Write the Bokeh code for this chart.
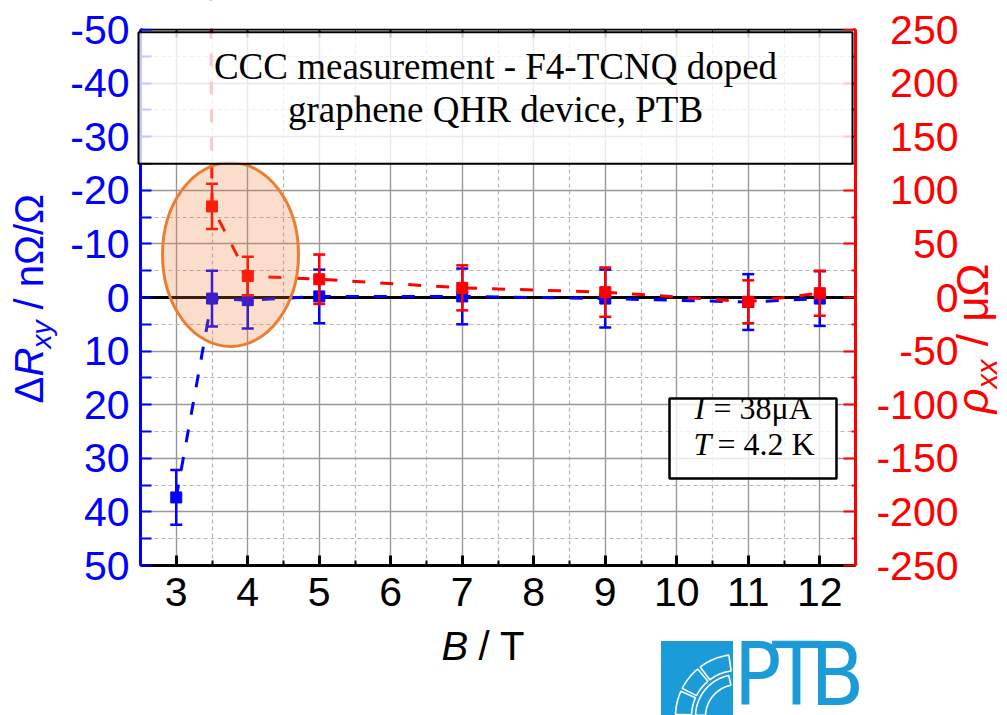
import math
from bokeh.plotting import figure
from bokeh.models import (Range1d, LinearAxis, FixedTicker, Label, LabelSet, Grid,
                          PolyAnnotation, BoxAnnotation, ColumnDataSource, CustomJSTickFormatter)
from bokeh.core.properties import value
from bokeh.embed import file_html
from bokeh.resources import INLINE

# ---------------- data ----------------
field_B = [3, 3.5, 4, 5, 7, 9, 11, 12]                       # B / T
delta_Rxy = [37.3, 0.2, 0.5, -0.2, -0.2, 0.2, 0.85, 0.2]       # nOhm/Ohm
delta_Rxy_err = [5.1, 5.2, 5.3, 5.0, 5.2, 5.4, 5.2, 5.1]
rho_B = [3, 3.5, 4, 5, 7, 9, 11, 12]
rho_xx = [6000, 85, 20, 17, 9, 5, -4, 4]                        # microOhm (first point far off-scale)
rho_xx_err = [20, 21, 18, 23, 21, 23, 20, 21]

x_ticks = [3, 4, 5, 6, 7, 8, 9, 10, 11, 12]
x_minor = [2.5, 3.5, 4.5, 5.5, 6.5, 7.5, 8.5, 9.5, 10.5, 11.5, 12.5]
left_ticks = [-50, -40, -30, -20, -10, 0, 10, 20, 30, 40, 50]
left_minor = [-45, -35, -25, -15, -5, 5, 15, 25, 35, 45]
right_ticks = [-250, -200, -150, -100, -50, 0, 50, 100, 150, 200, 250]
right_minor = [-225, -175, -125, -75, -25, 25, 75, 125, 175, 225]
right_tick_labels = [str(t) for t in right_ticks]

title_lines = ["CCC measurement - F4-TCNQ doped", "graphene QHR device, PTB"]

# ---------------- layout ----------------
W, H = 1007, 715
FL, FR, FT, FB = 140, 855, 29, 565          # plot area in canvas pixels
X0, X1 = 2.5, 12.5
Y_BOTTOM, Y_TOP = 50, -50
R_BOTTOM, R_TOP = -250, 250

BLUE = "#0000ff"
RED = "#ff0000"
SANS = "Liberation Sans"
SERIF = "Liberation Serif"
LOGO = "#1b9bd7"
NB = "\u00a0"
K_BASE = 0.36   # baseline correction (fraction of font size)


def xd(px):
    return X0 + (px - FL) * (X1 - X0) / (FR - FL)


def yd(py):
    return Y_TOP + (py - FT) * (Y_BOTTOM - Y_TOP) / (FB - FT)


def rd(py):
    return R_TOP + (py - FT) * (R_BOTTOM - R_TOP) / (FB - FT)


# the frame covers the whole canvas; axes sit at fixed locations
p = figure(width=W, height=H, x_range=Range1d(xd(0), xd(W)), y_range=Range1d(yd(H), yd(0)),
           output_backend="svg", toolbar_location=None, title=None,
           x_axis_location=None, y_axis_location=None,
           min_border_left=0, min_border_right=0, min_border_top=0, min_border_bottom=0)
p.extra_y_ranges = {"rho": Range1d(rd(H), rd(0))}
p.outline_line_color = None
p.background_fill_color = "white"
p.border_fill_color = "white"
for g in list(p.xgrid) + list(p.ygrid):
    g.visible = False

# ---------------- grids ----------------
HAS_CB = "cross_bounds" in Grid.properties()


def add_grid(dim, ticks, minor, bounds, cross, color, width, minor_color=None, dash=None):
    if HAS_CB:
        g = Grid(dimension=dim, ticker=FixedTicker(ticks=ticks, minor_ticks=minor),
                 bounds=bounds, cross_bounds=cross, grid_line_color=color, grid_line_width=width)
        if minor_color:
            g.minor_grid_line_color = minor_color
            g.minor_grid_line_width = 1.2
            g.minor_grid_line_dash = dash
        p.add_layout(g)
    else:
        lo, hi = min(bounds), max(bounds)
        for tks, c, w, d in ((minor, minor_color, 1.2, dash), (ticks, color, width, "solid")):
            if not c:
                continue
            t2 = [t for t in tks if lo < t < hi]
            if dim == 0:
                xs = [[t, t] for t in t2]
                ys = [[cross[0], cross[1]] for t in t2]
            else:
                xs = [[cross[0], cross[1]] for t in t2]
                ys = [[t, t] for t in t2]
            p.multi_line(xs, ys, line_color=c, line_width=w, line_dash=d, level="underlay")


add_grid(0, x_ticks, x_minor, (X0, X1), (Y_TOP, Y_BOTTOM), "#999999", 1.4, "#b5b5b5", "4 3")
add_grid(1, left_ticks, left_minor, (Y_TOP, Y_BOTTOM), (X0, X1), "#999999", 1.4, "#b5b5b5", "4 3")
add_grid(1, [0], [], (Y_TOP, Y_BOTTOM), (X0, X1), "black", 3)

# ---------------- axes ----------------
hyphen = CustomJSTickFormatter(code="return tick.toFixed(0)")
blank = CustomJSTickFormatter(code="return ''")

xa = LinearAxis(fixed_location=Y_BOTTOM, bounds=(X0, X1),
                ticker=FixedTicker(ticks=x_ticks, minor_ticks=x_minor), formatter=hyphen)
xa.axis_line_color = "black"
xa.axis_line_width = 3
xa.major_tick_line_color = "black"
xa.major_tick_line_width = 3
xa.minor_tick_line_color = "black"
xa.minor_tick_line_width = 2
xa.major_tick_in = 10
xa.major_tick_out = 0
xa.minor_tick_in = 5
xa.minor_tick_out = 0
xa.major_label_text_font = SANS
xa.major_label_text_font_size = "41px"
xa.major_label_text_color = "black"
xa.major_label_standoff = 12
p.add_layout(xa, "below")

ya = LinearAxis(fixed_location=X0, bounds=(Y_TOP, Y_BOTTOM),
                ticker=FixedTicker(ticks=left_ticks, minor_ticks=left_minor), formatter=hyphen)
ya.axis_line_color = BLUE
ya.axis_line_width = 3
ya.major_tick_line_color = BLUE
ya.major_tick_line_width = 2
ya.minor_tick_line_color = BLUE
ya.minor_tick_line_width = 2
ya.major_tick_in = 11
ya.major_tick_out = 0
ya.minor_tick_in = 11
ya.minor_tick_out = 0
ya.major_label_text_font = SANS
ya.major_label_text_font_size = "41px"
ya.major_label_text_color = BLUE
ya.major_label_standoff = 11
p.add_layout(ya, "left")

ra = LinearAxis(y_range_name="rho", fixed_location=X1, bounds=(R_BOTTOM, R_TOP),
                ticker=FixedTicker(ticks=right_ticks, minor_ticks=right_minor), formatter=blank)
ra.axis_line_color = RED
ra.axis_line_width = 3
ra.major_tick_line_color = RED
ra.major_tick_line_width = 2
ra.minor_tick_line_color = RED
ra.minor_tick_line_width = 2
ra.major_tick_in = 12
ra.major_tick_out = 0
ra.minor_tick_in = 4
ra.minor_tick_out = 0
ra.major_label_text_font_size = "1px"
p.add_layout(ra, "right")

ta = LinearAxis(fixed_location=Y_TOP, bounds=(X0, X1),
                ticker=FixedTicker(ticks=x_ticks, minor_ticks=x_minor), formatter=blank)
ta.axis_line_color = "black"
ta.axis_line_width = 2
ta.major_tick_line_color = "black"
ta.major_tick_line_width = 2
ta.minor_tick_line_color = "black"
ta.major_tick_in = 8
ta.major_tick_out = 0
ta.minor_tick_in = 4
ta.minor_tick_out = 0
ta.major_label_text_font_size = "1px"
p.add_layout(ta, "above")

# ---------------- data glyphs ----------------
src_b = ColumnDataSource(dict(
    x=field_B, y=delta_Rxy,
    lo=[v - e for v, e in zip(delta_Rxy, delta_Rxy_err)],
    hi=[v + e for v, e in zip(delta_Rxy, delta_Rxy_err)]))
p.line("x", "y", source=src_b, line_color=BLUE, line_width=3, line_dash="13 15")
p.segment(x0="x", y0="lo", x1="x", y1="hi", source=src_b, line_color=BLUE, line_width=2.5)
p.scatter("x", "lo", source=src_b, marker="dash", size=12, line_color=BLUE, line_width=2.5)
p.scatter("x", "hi", source=src_b, marker="dash", size=12, line_color=BLUE, line_width=2.5)
p.scatter("x", "y", source=src_b, marker="square", size=11, fill_color=BLUE, line_color=BLUE)

src_r = ColumnDataSource(dict(
    x=rho_B, y=rho_xx,
    lo=[v - e for v, e in zip(rho_xx, rho_xx_err)],
    hi=[v + e for v, e in zip(rho_xx, rho_xx_err)]))
p.line("x", "y", source=src_r, y_range_name="rho", line_color=RED, line_width=3, line_dash="13 15")
p.segment(x0="x", y0="lo", x1="x", y1="hi", source=src_r, y_range_name="rho", line_color=RED, line_width=2.5)
p.scatter("x", "lo", source=src_r, y_range_name="rho", marker="dash", size=12, line_color=RED, line_width=2.5)
p.scatter("x", "hi", source=src_r, y_range_name="rho", marker="dash", size=12, line_color=RED, line_width=2.5)
p.scatter("x", "y", source=src_r, y_range_name="rho", marker="square", size=11, fill_color=RED, line_color=RED)

# highlight ellipse
ecx, ecy = xd(230), yd(254)
ew, eh = xd(298) - xd(162), yd(346) - yd(162)
p.ellipse(x=[ecx], y=[ecy], width=[ew], height=[eh], fill_color="#ed7d31", fill_alpha=0.25,
          line_color="#ed7d31", line_width=3)


def poly(pts, **kw):
    p.add_layout(PolyAnnotation(xs=[xd(a) for a, b in pts], ys=[yd(b) for a, b in pts], **kw))


# mask above the plot area (keeps the off-scale line inside the axes box)
poly([(FL + 2, -2), (FR - 2, -2), (FR - 2, FT - 1.5), (FL + 2, FT - 1.5)],
     fill_color="white", fill_alpha=1.0, line_color="white", line_alpha=1.0, line_width=1)

# ---------------- right tick labels (right aligned) ----------------
rsrc = ColumnDataSource(dict(x=[xd(958)] * len(right_ticks), y=right_ticks, t=right_tick_labels))
p.add_layout(LabelSet(x="x", y="y", text="t", source=rsrc, y_range_name="rho",
                      text_align="right", text_baseline="middle", text_font=value(SANS),
                      text_font_size="41px", text_color=RED))


def lab(text, px, py, size, color, style="normal", angle=0.0, align="left", font=SANS):
    # (px, py): wanted baseline anchor in canvas pixels
    if angle:
        px = px - K_BASE * size
    else:
        py = py - K_BASE * size
    p.add_layout(Label(x=xd(px), y=yd(py), text=text, text_font=font, text_font_size=f"{size}px",
                       text_color=color, text_font_style=style, angle=angle, text_align=align,
                       text_baseline="alphabetic"))


# axis titles
up = math.pi / 2
lab("Δ", 43, 403, 40, BLUE, angle=up)
lab("R", 43, 376, 40, BLUE, style="italic", angle=up)
lab("xy", 51, 348, 28, BLUE, style="italic", angle=up)
lab(NB + "/ nΩ/Ω", 43, 320, 40, BLUE, angle=up)

lab("ρ", 988, 413, 44, RED, style="italic", angle=up)
lab("xx", 997, 388, 29, RED, style="italic", angle=up)
lab(NB + "/ μΩ", 988, 358, 44, RED, angle=up)

lab("B", 441, 660, 40, "black", style="italic")
lab(NB + "/ T", 467, 660, 40, "black")

# title box
p.add_layout(BoxAnnotation(left=xd(138), right=xd(852), top=yd(31.7), bottom=yd(163.3),
                           fill_color="white", fill_alpha=0.78, line_color="black", line_width=2,
                           line_alpha=1.0))
lab(title_lines[0], 495, 79, 37, "black", align="center", font=SERIF)
lab(title_lines[1], 495, 122, 37, "black", align="center", font=SERIF)

# conditions box
p.add_layout(BoxAnnotation(left=xd(669), right=xd(836), top=yd(398), bottom=yd(478),
                           fill_color="white", fill_alpha=0.78, line_color="black", line_width=2.5,
                           line_alpha=1.0))
lab("I", 694, 419, 32, "black", style="italic", font=SERIF)
lab("= 38μA", 713, 419, 32, "black", font=SERIF)
lab("T", 693, 455, 32, "black", style="italic", font=SERIF)
lab("= 4.2 K", 717, 455, 32, "black", font=SERIF)

# ---------------- PTB logo ----------------
poly([(661, 641), (732, 641), (732, 716), (661, 716)],
     fill_color=LOGO, fill_alpha=1.0, line_color=LOGO, line_alpha=1.0)


def sector(cx, cy, r0, r1, a0, a1, n=16):
    pts = []
    for i in range(n + 1):
        a = math.radians(a0 + (a1 - a0) * i / n)
        pts.append((cx + r1 * math.cos(a), cy - r1 * math.sin(a)))
    for i in range(n + 1):
        a = math.radians(a1 - (a1 - a0) * i / n)
        pts.append((cx + r0 * math.cos(a), cy - r0 * math.sin(a)))
    return pts


lcx, lcy = 737, 716
for (r0, r1, a0, a1) in [(46, 62, 98, 127), (46, 62, 130, 153), (46, 62, 156, 178),
                         (32, 42, 102, 178)]:
    poly(sector(lcx, lcy, r0, r1, a0, a1), fill_alpha=0.0, line_color="white",
         line_width=1.6, line_alpha=1.0)

logo_font = "'Liberation Sans Narrow', 'DejaVu Sans Condensed', 'Liberation Sans'"
for ch, cx in zip("PTB", (757, 796, 837)):
    lab(ch, cx, 706, 88, LOGO, align="center", font=logo_font)

open("out.html", "w").write(file_html(p, INLINE))
